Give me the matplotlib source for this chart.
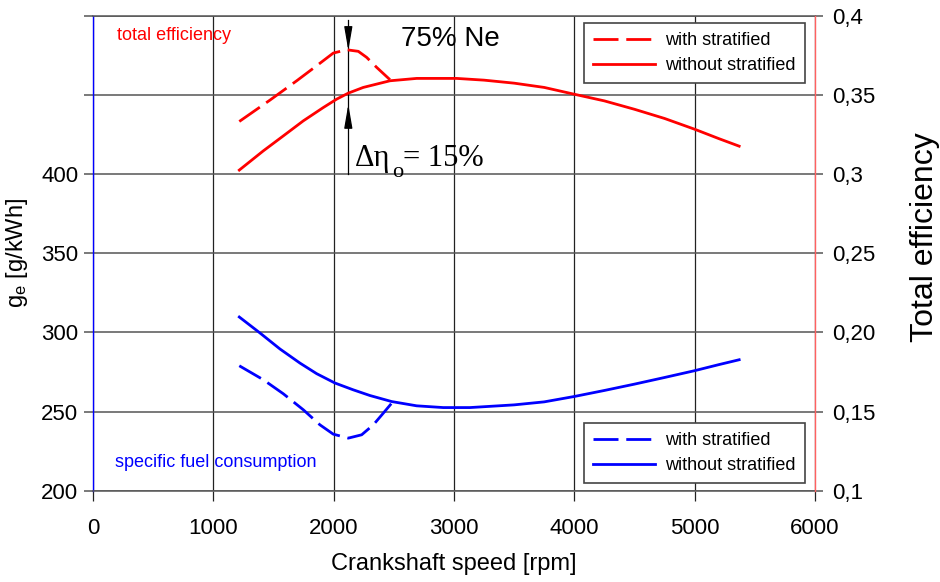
import matplotlib
matplotlib.use("Agg")
import matplotlib.pyplot as plt

plt.rcParams['font.family'] = ['Liberation Sans', 'DejaVu Sans']

# ---------------- data ----------------
rpm_eff_without = [1216, 1415, 1582, 1748, 1914, 2025, 2122, 2246, 2468, 2690, 3022,
                   3250, 3500, 3750, 4000, 4250, 4500, 4750, 5000, 5200, 5370]
eff_without = [0.3025, 0.3146, 0.3241, 0.3336, 0.3420, 0.3473, 0.3511, 0.3547, 0.3589,
               0.3604, 0.3604, 0.3593, 0.3574, 0.3547, 0.3504, 0.3462, 0.3409, 0.3351,
               0.3283, 0.3224, 0.3176]

rpm_eff_with = [1216, 1471, 1693, 1859, 1997, 2108, 2205, 2274, 2357, 2468]
eff_with = [0.3332, 0.3467, 0.3589, 0.3684, 0.3764, 0.3785, 0.3775, 0.3737, 0.3674, 0.3596]

rpm_sfc_without = [1216, 1388, 1554, 1720, 1859, 2011, 2163, 2302, 2482, 2690, 2911,
                   3133, 3500, 3750, 4000, 4250, 4500, 4750, 5000, 5200, 5370]
sfc_without = [309.7, 299.6, 289.5, 280.6, 273.9, 268.0, 263.7, 260.1, 256.3, 253.6, 252.5,
               252.5, 254.2, 256.1, 259.5, 263.3, 267.3, 271.5, 275.8, 279.6, 282.7]

rpm_sfc_with = [1216, 1415, 1582, 1748, 1886, 1997, 2122, 2233, 2330, 2413, 2487]
sfc_with = [278.9, 270.1, 261.2, 251.1, 241.6, 235.7, 233.2, 235.3, 241.6, 249.0, 255.7]

x_ticks = [0, 1000, 2000, 3000, 4000, 5000, 6000]
left_ticks = [200, 250, 300, 350, 400, 450, 500]
left_labels = ['200', '250', '300', '350', '400', '', '']
right_ticks = [0.1, 0.15, 0.2, 0.25, 0.3, 0.35, 0.4]
right_labels = ['0,1', '0,15', '0,20', '0,25', '0,3', '0,35', '0,4']
legend_labels = ['with stratified', 'without stratified']

# ---------------- figure ----------------
fig = plt.figure(figsize=(9.4, 5.82), dpi=100)
ax = fig.add_axes([0.0989, 0.1569, 0.7681, 0.8161])
ax2 = ax.twinx()

ax.set_xlim(0, 6000)
ax.set_ylim(200, 500)
ax2.set_ylim(0.1, 0.4)

ax.set_xticks(x_ticks)
ax.set_xticklabels([str(v) for v in x_ticks])
ax.set_yticks(left_ticks)
ax.set_yticklabels(left_labels)
ax2.set_yticks(right_ticks)
ax2.set_yticklabels(right_labels)

ax.grid(axis='y', color='#555555', lw=1.1)
ax.grid(axis='x', color='#222222', lw=0.9)

ax.tick_params(axis='y', direction='out', length=6.5, width=1.1, color='#555555',
               pad=4, labelsize=16)
ax.tick_params(axis='x', direction='out', length=7, width=0.9, color='#222222',
               pad=13, labelsize=16)
ax2.tick_params(axis='y', direction='out', length=6, width=1.1, color='#555555',
                pad=6, labelsize=16)

for s in ['top', 'bottom']:
    ax.spines[s].set_color('#555555')
    ax.spines[s].set_linewidth(1.1)
ax.spines['right'].set_visible(False)
ax.spines['left'].set_color('#0000ff')
ax.spines['left'].set_linewidth(1.0)
for s in ['top', 'bottom', 'left']:
    ax2.spines[s].set_visible(False)
ax2.spines['right'].set_color('#ff6060')
ax2.spines['right'].set_linewidth(1.0)

lw = 2.0
# blue: specific fuel consumption
b1, = ax.plot(rpm_sfc_with, sfc_with, color='#0000ff', lw=lw, dashes=(9, 2.8))
b2, = ax.plot(rpm_sfc_without, sfc_without, color='#0000ff', lw=lw)
# red: total efficiency
r1, = ax2.plot(rpm_eff_with, eff_with, color='#ff0000', lw=lw, dashes=(9, 2.8))
r2, = ax2.plot(rpm_eff_without, eff_without, color='#ff0000', lw=lw)

leg_kw = dict(fontsize=13, frameon=True, fancybox=False, borderaxespad=0,
              handlelength=3.45, handletextpad=0.55, labelspacing=0.45,
              borderpad=0.5, edgecolor='#444444')
lr = ax2.legend([r1, r2], legend_labels, loc='upper right',
                bbox_to_anchor=(0.986, 0.985), **leg_kw)
lr.get_frame().set_linewidth(1.2)
lr.get_frame().set_alpha(1)
lb = ax.legend([b1, b2], legend_labels, loc='lower right',
               bbox_to_anchor=(0.986, 0.016), **leg_kw)
lb.get_frame().set_linewidth(1.2)
lb.get_frame().set_alpha(1)

ax.set_xlabel('Crankshaft speed [rpm]', fontsize=17, labelpad=10)
ax.set_ylabel(r'g$\mathregular{_e}$ [g/kWh]', fontsize=17)
ax.yaxis.set_label_coords(-0.087, 0.5)
ax2.set_ylabel('Total efficiency', fontsize=23)
ax2.yaxis.set_label_coords(1.131, 0.534)

ax.text(200, 484.6, 'total efficiency', color='#ff0000', fontsize=13, va='baseline')
ax.text(183, 215, 'specific fuel consumption', color='#0000ff', fontsize=13,
        va='baseline')
ax.text(2560, 481, '75% Ne', color='black', fontsize=20, va='baseline')

# Δη_o = 15% label (serif), built from pieces
lab_x, lab_y = 2177, 405
serif = 'Liberation Serif'
ax.annotate('Δη', xy=(lab_x, lab_y), xytext=(0, 0), textcoords='offset points',
            family=serif, fontsize=22, va='baseline', ha='left')
ax.annotate('o', xy=(lab_x, lab_y), xytext=(26.5, -8), textcoords='offset points',
            family=serif, fontsize=16, va='baseline', ha='left')
ax.annotate('= 15%', xy=(lab_x, lab_y), xytext=(34.5, 0), textcoords='offset points',
            family=serif, fontsize=22, va='baseline', ha='left')

# arrow marking the efficiency gain
xa = 2122
ax.plot([xa, xa], [497, 400], color='black', lw=0.9)
ax.annotate('', xy=(xa, 478), xytext=(xa, 491),
            arrowprops=dict(arrowstyle='-|>,head_length=1.45,head_width=0.25',
                            color='black', lw=0.9, shrinkA=0, shrinkB=0,
                            mutation_scale=10))
ax.annotate('', xy=(xa, 444), xytext=(xa, 431),
            arrowprops=dict(arrowstyle='-|>,head_length=1.45,head_width=0.25',
                            color='black', lw=0.9, shrinkA=0, shrinkB=0,
                            mutation_scale=10))

fig.savefig('out.png', dpi=100)
